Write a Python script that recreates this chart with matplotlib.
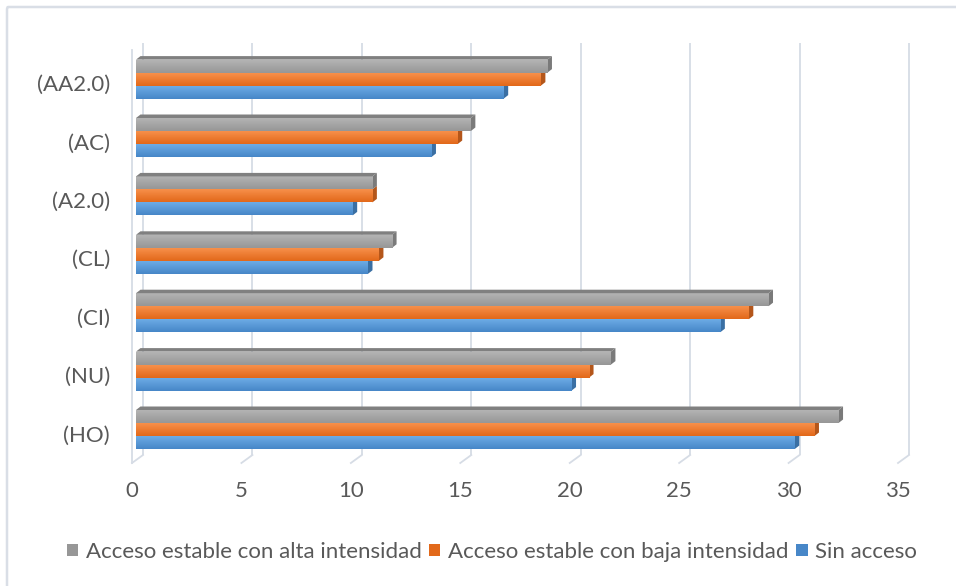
import numpy as np
import matplotlib
matplotlib.use("Agg")
import matplotlib.pyplot as plt
from matplotlib.patches import Polygon, Rectangle, FancyBboxPatch
from matplotlib.colors import to_rgb

plt.rcParams['font.family'] = ['Lato', 'DejaVu Sans']

# ---- data -------------------------------------------------------------
categories = ["(HO)", "(NU)", "(CI)", "(CL)", "(A2.0)", "(AC)", "(AA2.0)"]
sin_acceso = [30.1, 19.9, 26.7, 10.6, 9.9, 13.5, 16.8]
baja_intensidad = [31.0, 20.7, 28.0, 11.1, 10.8, 14.7, 18.5]
alta_intensidad = [32.1, 21.7, 28.9, 11.7, 10.8, 15.3, 18.8]
series_names = ["Sin acceso",
                "Acceso estable con baja intensidad",
                "Acceso estable con alta intensidad"]
x_ticks = [0, 5, 10, 15, 20, 25, 30, 35]

# ---- figure geometry ----------------------------------------------------
W, H, DPI = 956, 586, 100
fig = plt.figure(figsize=(W / DPI, H / DPI), dpi=DPI)
ax = fig.add_axes([0, 0, 1, 1])
ax.set_axis_off()

PX_X = 21.886          # pixels per value unit
PX_Y = 58.4            # pixels per category step
X0_PX = 132            # pixel column of value 0 (front plane)
YC_PX = 429.5          # pixel row of first category centre
xlim = (-X0_PX / PX_X, (W - X0_PX) / PX_X)
ylim = ((YC_PX - H) / PX_Y, YC_PX / PX_Y)


def px_y(p):
    return (YC_PX - p) / PX_Y


text_col = "#595959"
grid_col = "#D6DCE5"

# back-wall gridlines and floor edges
dx_wall = 11 / PX_X
y_top_back = px_y(43)
y_floor_back = px_y(455)
y_floor_front = px_y(463)
for t in x_ticks:
    ax.plot([t + dx_wall, t + dx_wall], [y_floor_back, y_top_back],
            color=grid_col, lw=1.3, zorder=1, solid_capstyle="butt")
    ax.plot([t, t + dx_wall], [y_floor_front, y_floor_back],
            color=grid_col, lw=1.3, zorder=1)
ax.plot([0, 0], [y_floor_front, px_y(50)], color=grid_col, lw=1.3, zorder=1)

# ---- 3D-looking bars -----------------------------------------------------
bar_h = 13 / PX_Y
b0 = 4 / PX_X              # front face starts slightly behind the front plane
dx = 4.5 / PX_X            # side-face depth
dy = 3.5 / PX_Y

styles = [
    # (top, bottom, side) colours
    ("#6CABE5", "#4787C8", "#3A6FA3"),   # Sin acceso
    ("#F78F4A", "#E2691A", "#B4561A"),   # baja intensidad
    ("#B3B3B3", "#979797", "#7A7A7A"),   # alta intensidad
]
all_series = [sin_acceso, baja_intensidad, alta_intensidad]


def gradient(c_top, c_bot, n=24):
    a = np.array(to_rgb(c_top))
    b = np.array(to_rgb(c_bot))
    t = np.linspace(0, 1, n)[:, None]
    return (a * (1 - t) + b * t)[:, None, :]


z = 3
for i in range(len(categories)):
    for s, vals in enumerate(all_series):
        v = vals[i]
        y0 = i - 1.5 * bar_h + s * bar_h
        y1 = y0 + bar_h
        c_top, c_bot, c_side = styles[s]
        # right side face
        ax.add_patch(Polygon([(b0 + v, y0), (b0 + v, y1),
                              (b0 + v + dx, y1 + dy), (b0 + v + dx, y0 + dy)],
                             closed=True, facecolor=c_side, edgecolor="none",
                             zorder=z))
        # front face with a soft vertical gradient
        ax.imshow(gradient(c_top, c_bot), extent=(b0, b0 + v, y0, y1),
                  aspect="auto", interpolation="bilinear", zorder=z + 0.5)
        if s == 2:
            # top face of the uppermost bar
            ax.add_patch(Polygon([(b0, y1), (b0 + v, y1),
                                  (b0 + v + dx, y1 + dy), (b0 + dx, y1 + dy)],
                                 closed=True, facecolor="#808080",
                                 edgecolor="none", zorder=z + 0.6))
        z += 1

# ---- labels ---------------------------------------------------------------
for i, c in enumerate(categories):
    ax.text((110 - X0_PX) / PX_X, i - 6 / PX_Y, c, ha="right", va="center",
            fontsize=16, color=text_col)
for t in x_ticks:
    ax.text(t, px_y(491), str(t), ha="center", va="center",
            fontsize=16, color=text_col)

# ---- legend -----------------------------------------------------------------
handles = [Rectangle((0, 0), 1, 1, facecolor=styles[s][1], edgecolor="none")
           for s in (2, 1, 0)]
labels = [series_names[s] for s in (2, 1, 0)]
fig.legend(handles, labels, loc="center", bbox_to_anchor=(492 / W, 1 - 552 / H),
           ncol=3, frameon=False, fontsize=16, handlelength=0.5,
           handleheight=0.5, handletextpad=0.35, columnspacing=0.35,
           labelcolor=text_col)

# chart-area border
ax.add_patch(FancyBboxPatch((xlim[0] + 7 / PX_X, ylim[0] - 1),
                            (W + 40) / PX_X, (H - 7) / PX_Y + 1,
                            boxstyle="round,pad=0,rounding_size=0.05",
                            facecolor="none", edgecolor="#D9DEE6", lw=1.8,
                            zorder=0, clip_on=False))

ax.set_xlim(*xlim)
ax.set_ylim(*ylim)
fig.savefig("out.png", dpi=DPI)
